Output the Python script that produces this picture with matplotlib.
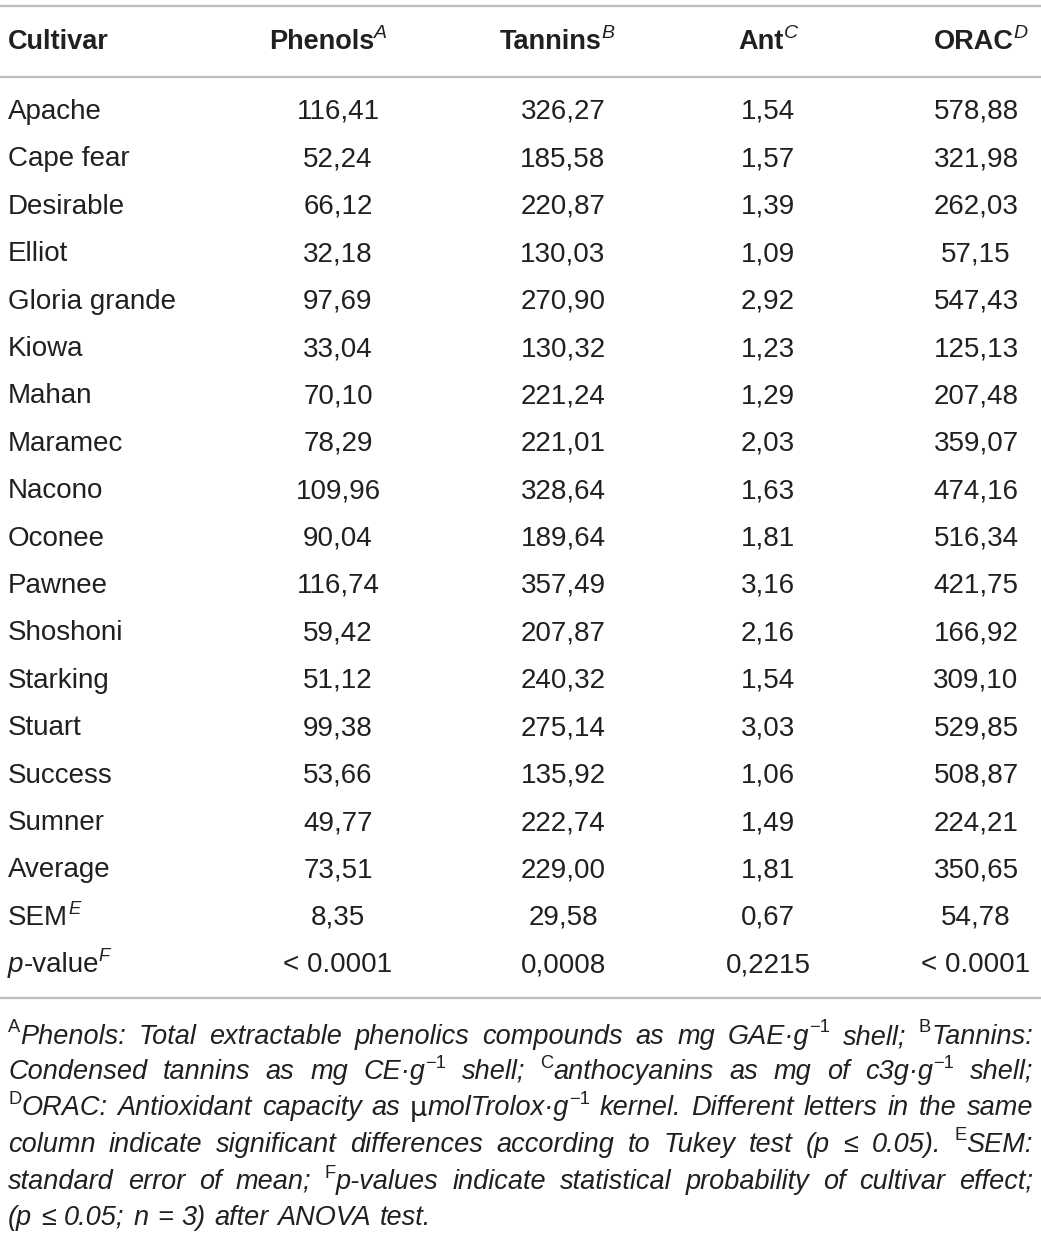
import matplotlib
matplotlib.use("Agg")
import matplotlib.pyplot as plt

cultivars = ["Apache", "Cape fear", "Desirable", "Elliot", "Gloria grande", "Kiowa",
             "Mahan", "Maramec", "Nacono", "Oconee", "Pawnee", "Shoshoni", "Starking",
             "Stuart", "Success", "Sumner", "Average"]
phenols = ["116,41", "52,24", "66,12", "32,18", "97,69", "33,04", "70,10", "78,29", "109,96",
           "90,04", "116,74", "59,42", "51,12", "99,38", "53,66", "49,77", "73,51"]
tannins = ["326,27", "185,58", "220,87", "130,03", "270,90", "130,32", "221,24", "221,01",
           "328,64", "189,64", "357,49", "207,87", "240,32", "275,14", "135,92", "222,74", "229,00"]
ant = ["1,54", "1,57", "1,39", "1,09", "2,92", "1,23", "1,29", "2,03", "1,63", "1,81",
       "3,16", "2,16", "1,54", "3,03", "1,06", "1,49", "1,81"]
orac = ["578,88", "321,98", "262,03", "57,15", "547,43", "125,13", "207,48", "359,07",
        "474,16", "516,34", "421,75", "166,92", "309,10", "529,85", "508,87", "224,21", "350,65"]
sem = ["8,35", "29,58", "0,67", "54,78"]
pvalue = ["< 0.0001", "0,0008", "0,2215", "< 0.0001"]

headers = [("Phenols", "A"), ("Tannins", "B"), ("Ant", "C"), ("ORAC", "D")]

W, H = 1041, 1241
fig = plt.figure(figsize=(W / 100, H / 100), dpi=100)
ax = fig.add_axes([0, 0, 1, 1])
ax.set_xlim(0, W)
ax.set_ylim(H, 0)
ax.axis("off")

FONT = "Liberation Sans"
TC = "#231f20"
FS = 20
col_x = [338, 563, 768, 976]
head_x = [328, 557, 768, 981]
renderer = fig.canvas.get_renderer()


def width_of(t):
    bb = t.get_window_extent(renderer=renderer)
    return bb.width


def text_sup(x, y, main, sup, ha="left", weight="normal", style="normal", size=FS, ssize=0.66):
    t = ax.text(x, y, main, fontsize=size, family=FONT, weight=weight, style=style,
                color=TC, va="center", ha="left")
    wm = width_of(t)
    s = ax.text(x, y - size * 0.42, sup, fontsize=size * ssize, family=FONT,
                weight="normal", style="italic", color=TC, va="center", ha="left")
    ws = width_of(s)
    if ha == "center":
        shift = (wm + ws) / 2
        t.set_x(x - shift)
        s.set_x(x - shift + wm)
    else:
        s.set_x(x + wm)


# rules
for y in [6, 77, 998]:
    ax.plot([0, W], [y, y], color="#bdbdbd", lw=1.6)

# header
ax.text(8, 42, "Cultivar", fontsize=19.5, family=FONT, weight="bold", color=TC, va="center")
for (name, sup), x in zip(headers, head_x):
    text_sup(x, 42, name, sup, ha="center", weight="bold", size=19.5, ssize=0.72)

# body rows
row_y0, row_dy = 112, 47.4
for i, c in enumerate(cultivars):
    y = row_y0 + i * row_dy
    ax.text(8, y, c, fontsize=FS, family=FONT, color=TC, va="center")
    for vals, x in zip([phenols, tannins, ant, orac], col_x):
        ax.text(x, y, vals[i], fontsize=FS, family=FONT, color=TC, va="center", ha="center")

y = row_y0 + len(cultivars) * row_dy
text_sup(8, y, "SEM", "E")
for v, x in zip(sem, col_x):
    ax.text(x, y, v, fontsize=FS, family=FONT, color=TC, va="center", ha="center")

y = row_y0 + (len(cultivars) + 1) * row_dy
t = ax.text(8, y, "p", fontsize=FS, family=FONT, style="italic", color=TC, va="center")
text_sup(8 + width_of(t), y, "-value", "F")
for v, x in zip(pvalue, col_x):
    ax.text(x, y, v, fontsize=FS, family=FONT, color=TC, va="center", ha="center")

# footnote, justified by hand
FFS = 19.5
note_lines = [
    [("A", "sup"), ("Phenols: Total extractable phenolics compounds as mg GAE·g", "it"), ("−1", "sup"),
     (" shell; ", "it"), ("B", "sup"), ("Tannins:", "it")],
    [("Condensed tannins as mg CE·g", "it"), ("−1", "sup"), (" shell; ", "it"), ("C", "sup"),
     ("anthocyanins as mg of c3g·g", "it"), ("−1", "sup"), (" shell;", "it")],
    [("D", "sup"), ("ORAC: Antioxidant capacity as ", "it"), ("μ", "up"), ("molTrolox·g", "it"),
     ("−1", "sup"), (" kernel. Different letters in the same", "it")],
    [("column indicate significant differences according to Tukey test (p ≤ 0.05). ", "it"),
     ("E", "sup"), ("SEM:", "it")],
    [("standard error of mean; ", "it"), ("F", "sup"),
     ("p-values indicate statistical probability of cultivar effect;", "it")],
    [("(p ≤ 0.05; n = 3) after ANOVA test.", "it")],
]
note_y = [1037, 1072, 1108, 1145, 1182, 1218]
left, right = 8, 1033

tmp1 = ax.text(0, 0, "a a", fontsize=FFS, family=FONT, style="italic")
tmp2 = ax.text(0, 0, "aa", fontsize=FFS, family=FONT, style="italic")
space = width_of(tmp1) - width_of(tmp2)
tmp1.remove()
tmp2.remove()

for li, (parts, ny) in enumerate(zip(note_lines, note_y)):
    # split into word tokens, superscripts stay glued to their neighbours
    tokens = []
    cur = []
    for txt, kind in parts:
        if kind in ("sup", "up"):
            cur.append((txt, kind))
            continue
        words = txt.split(" ")
        for wi, w in enumerate(words):
            if wi > 0:
                if cur:
                    tokens.append(cur)
                cur = []
            if w:
                cur.append((w, kind))
    if cur:
        tokens.append(cur)

    drawn = []
    for tok in tokens:
        objs = []
        for txt, kind in tok:
            if kind == "sup":
                o = ax.text(0, ny - 9, txt, fontsize=FFS * 0.68, family=FONT, color=TC, va="center")
            elif kind == "up":
                o = ax.text(0, ny + 1, txt, fontsize=FFS, family="DejaVu Sans", color=TC, va="center")
            else:
                o = ax.text(0, ny, txt, fontsize=FFS, family=FONT, style="italic", color=TC,
                            va="center")
            objs.append((o, width_of(o)))
        drawn.append(objs)
    widths = [sum(w for _, w in objs) for objs in drawn]
    if li < len(note_lines) - 1 and len(drawn) > 1:
        gap = (right - left - sum(widths)) / (len(drawn) - 1)
    else:
        gap = space * 1.15
    x = left
    for objs, w in zip(drawn, widths):
        xx = x
        for o, ow in objs:
            o.set_x(xx)
            xx += ow
        x += w + gap

fig.savefig("out.png", dpi=100)
